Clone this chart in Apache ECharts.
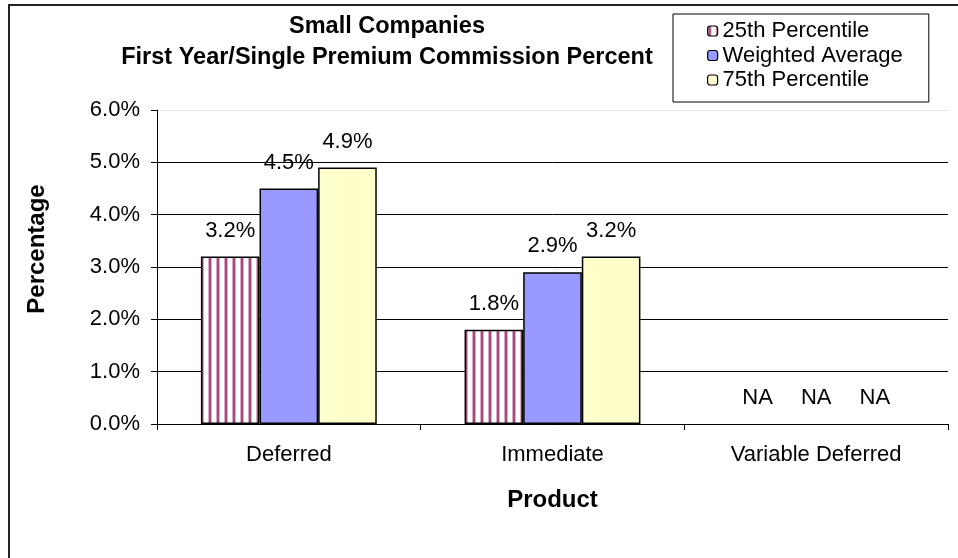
<!DOCTYPE html>
<html>
<head>
<meta charset="utf-8">
<script src="https://cdn.jsdelivr.net/npm/echarts@6/dist/echarts.min.js"></script>
<style>
html,body{margin:0;padding:0;background:#fff;}
#chart{width:958px;height:558px;}
</style>
</head>
<body>
<div id="chart"></div>
<script>
var categories = ['Deferred', 'Immediate', 'Variable Deferred'];
var seriesNames = ['25th Percentile', 'Weighted Average', '75th Percentile'];
var p25 = [3.2, 1.8, null];
var weightedAvg = [4.5, 2.9, null];
var p75 = [4.9, 3.2, null];
var yTicks = ['0.0%', '1.0%', '2.0%', '3.0%', '4.0%', '5.0%', '6.0%'];

var FONT = '"Liberation Sans", Arial, sans-serif';

// stripe pattern for 25th percentile
var pc = document.createElement('canvas');
pc.width = 8; pc.height = 8;
var pctx = pc.getContext('2d');
pctx.fillStyle = '#ffffff';
pctx.fillRect(0, 0, 8, 8);
pctx.fillStyle = '#dcaac4';
pctx.fillRect(0, 0, 4, 8);
pctx.fillStyle = '#a54a7c';
pctx.fillRect(1, 0, 2, 8);

function buildData(arr) {
  return arr.map(function (v) {
    if (v === null) {
      return { value: 0, label: { formatter: 'NA' }, itemStyle: { borderWidth: 0 } };
    }
    return v;
  });
}

var colors = [{ image: pc, repeat: 'repeat' }, '#9999ff', '#ffffcc'];
var rawData = [p25, weightedAvg, p75];

var chart = echarts.init(document.getElementById('chart'), null, { renderer: 'canvas' });
var option = {
  animation: false,
  textStyle: { fontFamily: FONT },
  title: {
    text: 'Small Companies\nFirst Year/Single Premium Commission Percent',
    left: 387,
    top: 11,
    padding: 0,
    textAlign: 'center',
    textStyle: { fontFamily: FONT, fontSize: 23.5, fontWeight: 'bold', color: '#000', lineHeight: 31 }
  },
  legend: {
    orient: 'vertical',
    left: 673,
    top: 14,
    padding: [6, 26, 11, 34],
    itemGap: 2.5,
    itemWidth: 10,
    itemHeight: 10,
    itemStyle: { borderColor: '#000', borderWidth: 1.2 },
    borderColor: '#000',
    borderWidth: 1,
    textStyle: { fontFamily: FONT, fontSize: 22, color: '#000' },
    data: seriesNames
  },
  graphic: [{
    type: 'rect',
    shape: { x: 9, y: 5, width: 1000, height: 600 },
    style: { fill: 'none', stroke: '#222', lineWidth: 2 },
    silent: true,
    z: -1
  }],
  grid: { left: 157, right: 10, top: 110, bottom: 134 },
  xAxis: {
    type: 'category',
    data: categories,
    name: 'Product',
    nameLocation: 'middle',
    nameGap: 64,
    nameTextStyle: { fontFamily: FONT, fontSize: 24, fontWeight: 'bold', color: '#000' },
    axisLine: { lineStyle: { color: '#000', width: 1 } },
    axisTick: { show: true, length: 6, lineStyle: { color: '#000' } },
    axisLabel: { fontFamily: FONT, fontSize: 22, color: '#000', margin: 20 }
  },
  yAxis: {
    type: 'value',
    min: 0,
    max: 6,
    interval: 1,
    name: 'Percentage',
    nameLocation: 'middle',
    nameGap: 108,
    nameTextStyle: { fontFamily: FONT, fontSize: 24, fontWeight: 'bold', color: '#000', padding: [0, 0, 0, 36] },
    axisLine: { show: true, lineStyle: { color: '#000', width: 1 } },
    axisTick: { show: true, length: 6, lineStyle: { color: '#000' } },
    axisLabel: {
      fontFamily: FONT, fontSize: 22, color: '#000', margin: 17,
      formatter: function (v) { return yTicks[Math.round(v)]; }
    },
    splitLine: {
      show: true,
      lineStyle: { color: ['#000', '#000', '#000', '#000', '#000', '#000', '#e4e4e4'], width: 1 }
    }
  },
  series: seriesNames.map(function (name, i) {
    return {
      name: name,
      type: 'bar',
      barGap: '0%',
      barCategoryGap: '33.3%',
      data: buildData(rawData[i]),
      itemStyle: { color: colors[i], borderColor: '#000', borderWidth: 1.5 },
      label: {
        show: true,
        position: 'top',
        distance: 15,
        fontFamily: FONT,
        fontSize: 22,
        color: '#000',
        formatter: function (p) { return p.value.toFixed(1) + '%'; }
      }
    };
  })
};
chart.setOption(option);
</script>
</body>
</html>
